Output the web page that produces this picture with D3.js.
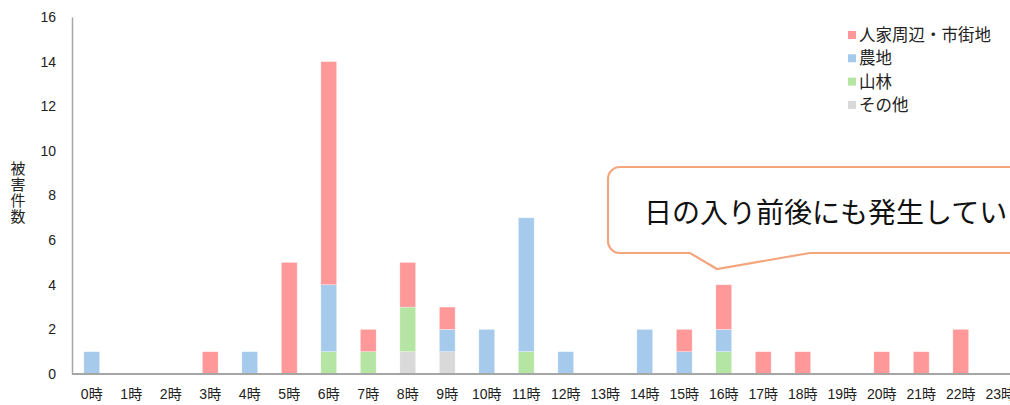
<!DOCTYPE html>
<html>
<head>
<meta charset="utf-8">
<script src="https://cdn.jsdelivr.net/npm/d3@7"></script>
<style>
body{margin:0;background:#fff;}
svg{display:block;font-family:"Noto Sans CJK JP","Liberation Sans",sans-serif;}
</style>
</head>
<body>
<svg id="chart"></svg>
<script>
var hours = ["0時","1時","2時","3時","4時","5時","6時","7時","8時","9時","10時","11時","12時","13時","14時","15時","16時","17時","18時","19時","20時","21時","22時","23時"];
var seriesNames = ["人家周辺・市街地","農地","山林","その他"];
var jinka  = [0,0,0,1,0,5,10,1,2,1,0,0,0,0,0,1,2,1,1,0,1,1,2,0];//人家周辺・市街地
var nouchi = [1,0,0,0,1,0,3,0,0,1,2,6,1,0,2,1,1,0,0,0,0,0,0,0];//農地
var sanrin = [0,0,0,0,0,0,1,1,2,0,0,1,0,0,0,0,1,0,0,0,0,0,0,0];//山林
var sonota = [0,0,0,0,0,0,0,0,1,1,0,0,0,0,0,0,0,0,0,0,0,0,0,0];//その他
var yTicks = [0,2,4,6,8,10,12,14,16];
var calloutText = "日の入り前後にも発生している";

function drawChart(id){
    var svgWidth = 1010;
    var svgHeight = 405;
    var left = 72;
    var top = 17;
    var bottom = 374;
    var colorArr = ['#ff9999','#a6caec','#b5e5a3','#d9d9d9'];

    var svg = d3.select(id).attr("width",svgWidth).attr("height",svgHeight);

    var x = d3.scaleBand().domain(hours).range([left, left + 39.5*24]).paddingInner(0.6).paddingOuter(0.3);
    var y = d3.scaleLinear().domain([0,16]).range([bottom, top]);

    //積み上げ(下から その他・山林・農地・人家)
    var rows = hours.map(function(h,i){
        return {h:h, "人家周辺・市街地":jinka[i], "農地":nouchi[i], "山林":sanrin[i], "その他":sonota[i]};
    });
    var keys = seriesNames.slice().reverse();
    var stack = d3.stack().keys(keys)(rows);

    svg.append("g").selectAll("g")
    .data(stack)
    .enter().append("g")
    .attr("fill",function(d){ return colorArr[seriesNames.indexOf(d.key)]; })
    .selectAll("rect")
    .data(function(d){ return d.filter(function(p){ return p[1]-p[0] > 0; }); })
    .enter().append("rect")
    .attr("x",function(d){ return x(d.data.h); })
    .attr("width",x.bandwidth())
    .attr("y",function(d){ return y(d[1]); })
    .attr("height",function(d){ return y(d[0]) - y(d[1]); })
    .attr("stroke","#ffffff")
    .attr("stroke-opacity",0.5)
    .attr("stroke-width",0.6);

    //軸
    var yAxis = svg.append("g").attr("transform","translate(" + left + ",0)")
    .call(d3.axisLeft(y).tickValues(yTicks).tickSize(0).tickPadding(16));
    yAxis.select(".domain").attr("stroke","#a6a6a6").attr("stroke-width",1.5);
    yAxis.selectAll("text").attr("font-size",14).attr("fill","#222").attr("font-family","Liberation Sans, sans-serif");

    var xAxis = svg.append("g").attr("transform","translate(0," + bottom + ")")
    .call(d3.axisBottom(x).tickSize(0).tickPadding(15));
    xAxis.select(".domain").attr("stroke","#a6a6a6").attr("stroke-width",2).attr("d","M" + left + ",0H" + (svgWidth+20));
    xAxis.selectAll("text").attr("font-size",14).attr("fill","#222")
    .attr("font-family","'Liberation Sans','Noto Sans CJK JP',sans-serif");

    //縦書きタイトル
    svg.append("text").attr("x",18).attr("y",161)
    .style("writing-mode","vertical-rl")
    .attr("font-size",15).attr("letter-spacing",1).attr("fill","#222")
    .text("被害件数");

    //凡例
    var legend = svg.append("g").selectAll("g").data(seriesNames).enter().append("g")
    .attr("transform",function(d,i){ return "translate(848," + (35 + i*23.3) + ")"; });
    legend.append("rect").attr("x",0).attr("y",-4).attr("width",8).attr("height",8)
    .attr("fill",function(d,i){ return colorArr[i]; });
    legend.append("text").attr("x",11).attr("dy","0.36em").attr("font-size",16.5).attr("fill","#222").text(function(d){ return d; });

    //吹き出し
    var cx0 = 608, cy0 = 167, cx1 = 1040, cy1 = 253, r = 12;
    var p = d3.path();
    p.moveTo(cx0 + r, cy0);
    p.lineTo(cx1, cy0);
    p.lineTo(cx1, cy1);
    p.lineTo(810, cy1);
    p.lineTo(717, 269);
    p.lineTo(690, cy1);
    p.lineTo(cx0 + r, cy1);
    p.arcTo(cx0, cy1, cx0, cy1 - r, r);
    p.lineTo(cx0, cy0 + r);
    p.arcTo(cx0, cy0, cx0 + r, cy0, r);
    p.closePath();
    svg.append("path").attr("d",p.toString()).attr("fill","#fff").attr("stroke","#f4a57c").attr("stroke-width",2.2);
    svg.append("text").attr("x",644).attr("y",223).attr("font-size",28).attr("fill","#111").text(calloutText);
}

drawChart("#chart");
</script>
</body>
</html>
